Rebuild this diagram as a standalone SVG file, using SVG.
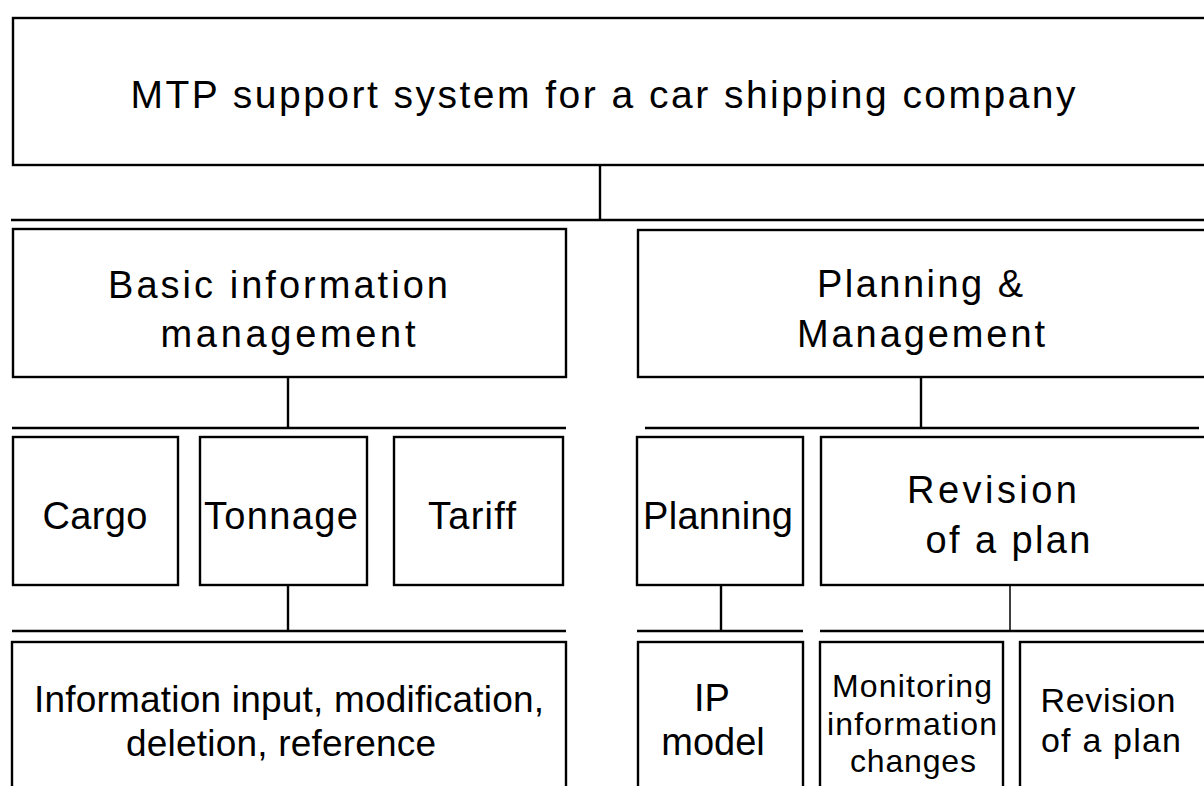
<svg xmlns="http://www.w3.org/2000/svg" width="1204" height="786" viewBox="0 0 1204 786">
  <style>
    .box { fill: #ffffff; stroke: #000000; stroke-width: 2.4; }
    .wire { fill: none; stroke: #000000; stroke-width: 2.4; }
    .thin { stroke-width: 1.5; }
    text { font-family: "Liberation Sans", Arial, sans-serif; fill: #000000; text-anchor: middle; }
    .t1 { font-size: 39px; }
    .t2 { font-size: 38px; }
    .t3 { font-size: 38px; }
    .t4 { font-size: 37px; }
    .t5 { font-size: 34px; }
    .t6 { font-size: 32px; }
  </style>
  <rect width="1204" height="786" fill="#ffffff"/>

  <!-- tree connectors: trunk lines and bus bars -->
  <g id="connectors">
    <line class="wire" x1="600" y1="165" x2="600" y2="220"/>
    <line class="wire" x1="11" y1="220" x2="1204" y2="220"/>
    <line class="wire" x1="288" y1="377" x2="288" y2="428"/>
    <line class="wire" x1="12" y1="428" x2="566" y2="428"/>
    <line class="wire" x1="921" y1="377" x2="921" y2="428"/>
    <line class="wire" x1="645" y1="428" x2="1199" y2="428"/>
    <line class="wire" x1="288" y1="585" x2="288" y2="631"/>
    <line class="wire" x1="12" y1="631" x2="566" y2="631"/>
    <line class="wire" x1="721" y1="585" x2="721" y2="631"/>
    <line class="wire" x1="637" y1="631" x2="803" y2="631"/>
    <line class="wire thin" x1="1010" y1="585" x2="1010" y2="631"/>
    <line class="wire" x1="820" y1="631" x2="1204" y2="631"/>
  </g>

  <g id="root">
    <rect class="box" x="13" y="18" width="1200" height="147"/>
    <text class="t1" x="603" y="108" textLength="945" lengthAdjust="spacing">MTP support system for a car shipping company</text>
  </g>

  <g id="basic-info">
    <rect class="box" x="13" y="229" width="553" height="148"/>
    <text class="t2" x="278" y="298" textLength="340" lengthAdjust="spacing">Basic information</text>
    <text class="t2" x="288" y="347" textLength="255" lengthAdjust="spacing">management</text>
  </g>

  <g id="planning-management">
    <rect class="box" x="638" y="230" width="580" height="147"/>
    <text class="t2" x="920" y="297" textLength="206" lengthAdjust="spacing">Planning &amp;</text>
    <text class="t2" x="921" y="347" textLength="248" lengthAdjust="spacing">Management</text>
  </g>

  <g id="cargo">
    <rect class="box" x="13" y="437" width="165" height="148"/>
    <text class="t3" x="95" y="529" textLength="105" lengthAdjust="spacing">Cargo</text>
  </g>

  <g id="tonnage">
    <rect class="box" x="200" y="437" width="167" height="148"/>
    <text class="t3" x="281" y="529" textLength="154" lengthAdjust="spacing">Tonnage</text>
  </g>

  <g id="tariff">
    <rect class="box" x="394" y="437" width="169" height="148"/>
    <text class="t3" x="472" y="529" textLength="88" lengthAdjust="spacing">Tariff</text>
  </g>

  <g id="planning">
    <rect class="box" x="637" y="437" width="166" height="148"/>
    <text class="t3" x="718" y="529" textLength="150" lengthAdjust="spacing">Planning</text>
  </g>

  <g id="revision">
    <rect class="box" x="821" y="437" width="400" height="148"/>
    <text class="t3" x="992" y="503" textLength="170" lengthAdjust="spacing">Revision</text>
    <text class="t3" x="1008" y="553" textLength="165" lengthAdjust="spacing">of a plan</text>
  </g>

  <g id="info-ops">
    <rect class="box" x="12" y="642" width="554" height="160"/>
    <text class="t4" x="289" y="712" textLength="510" lengthAdjust="spacing">Information input, modification,</text>
    <text class="t4" x="281" y="756" textLength="310" lengthAdjust="spacing">deletion, reference</text>
  </g>

  <g id="ip-model">
    <rect class="box" x="638" y="642" width="165" height="160"/>
    <text class="t3" x="712" y="711">IP</text>
    <text class="t3" x="713" y="755">model</text>
  </g>

  <g id="monitoring">
    <rect class="box" x="820" y="642" width="183" height="160"/>
    <text class="t6" x="912" y="697" textLength="160" lengthAdjust="spacing">Monitoring</text>
    <text class="t6" x="912" y="735" textLength="170" lengthAdjust="spacing">information</text>
    <text class="t6" x="913" y="772" textLength="126" lengthAdjust="spacing">changes</text>
  </g>

  <g id="revision-plan">
    <rect class="box" x="1020" y="642" width="200" height="160"/>
    <text class="t5" x="1108" y="712" textLength="135" lengthAdjust="spacing">Revision</text>
    <text class="t5" x="1111" y="752" textLength="140" lengthAdjust="spacing">of a plan</text>
  </g>
</svg>
